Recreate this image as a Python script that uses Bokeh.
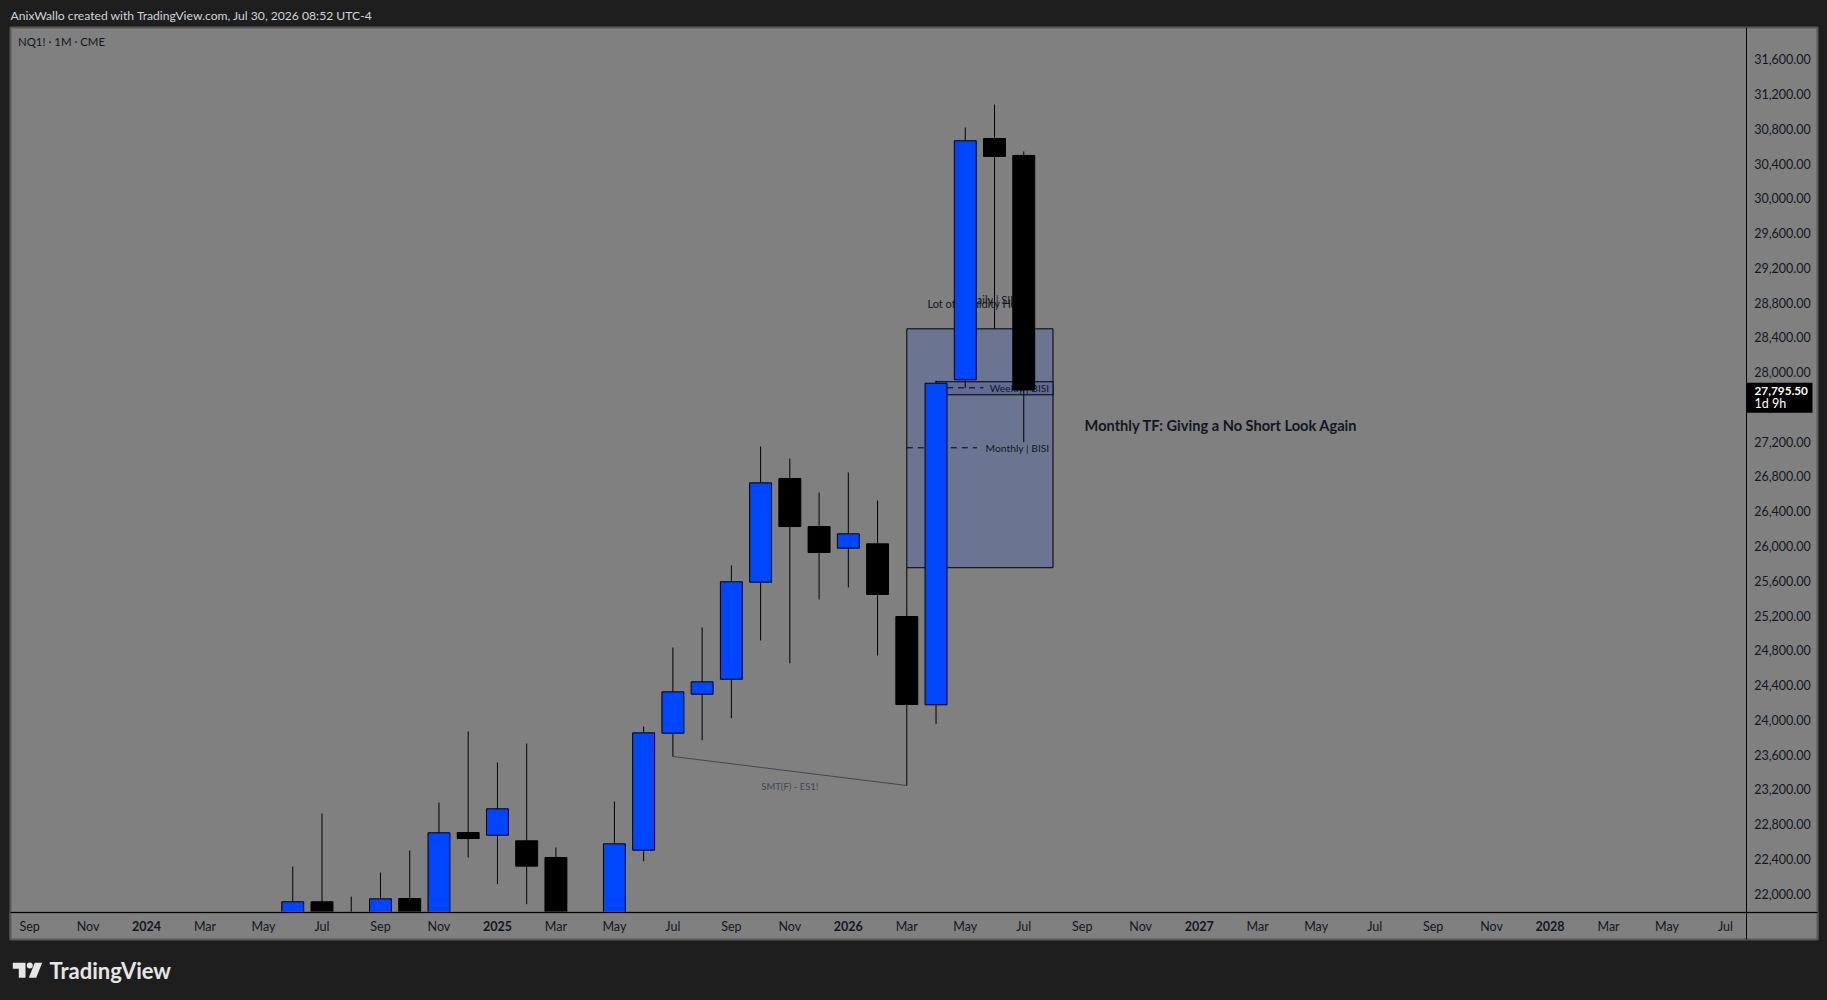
from bokeh.plotting import figure
from bokeh.embed import file_html
from bokeh.resources import INLINE
from bokeh.core.properties import value
from bokeh.models import ColumnDataSource, FixedTicker, NumeralTickFormatter, Range1d

# ---- data -----------------------------------------------------------------
axis_months = ["Sep", "Oct", "Nov", "Dec", "2024", "Feb", "Mar", "Apr", "May", "Jun", "Jul", "Aug",
               "Sep", "Oct", "Nov", "Dec", "2025", "Feb", "Mar", "Apr", "May", "Jun", "Jul", "Aug",
               "Sep", "Oct", "Nov", "Dec", "2026", "Feb", "Mar", "Apr", "May", "Jun", "Jul", "Aug",
               "Sep", "Oct", "Nov", "Dec", "2027", "Feb", "Mar", "Apr", "May", "Jun", "Jul", "Aug",
               "Sep", "Oct", "Nov", "Dec", "2028", "Feb", "Mar", "Apr", "May", "Jun", "Jul"]
candle_idx = list(range(9, 35))
opens  = [21650, 21906, 21690, 21700, 21944, 21700, 22703, 22672, 22608, 22416, 21400, 21650, 22500,
          23846, 24295, 24467, 25584, 26777, 26224, 25975, 26025, 25189, 24173, 27913, 30689, 30494]
highs  = [22312, 22922, 21967, 22243, 22496, 23048, 23866, 23509, 23727, 22531, 21600, 23060, 23923,
          24832, 25062, 25776, 27145, 27007, 26616, 26846, 26524, 25750, 27904, 30816, 31080, 30540]
lows   = [21500, 21400, 21500, 21500, 21500, 21500, 22416, 22109, 21878, 21400, 21100, 21400, 22373,
          23578, 23765, 24019, 24913, 24651, 25384, 25523, 24740, 23244, 23950, 27820, 28500, 27195]
closes = [21906, 21700, 21700, 21940, 21700, 22700, 22634, 22976, 22316, 21700, 21500, 22573, 23850,
          24322, 24437, 25588, 26727, 26224, 25925, 26140, 25442, 24176, 27873, 30663, 30482, 27795.5]
price_ticks = [22000, 22400, 22800, 23200, 23600, 24000, 24400, 24800, 25200, 25600, 26000, 26400, 26800,
               27200, 27600, 28000, 28400, 28800, 29200, 29600, 30000, 30400, 30800, 31200, 31600]
year_idx = [4, 16, 28, 40, 52]
year_labels = ["2024", "2025", "2026", "2027", "2028"]
last_price = "27,795.50"
countdown = "1d 9h"

FONT = "Lato"
BG = "#1e1e1e"
PANE = "#808080"
TEXT = "#131722"


def dx(px):  # page pixel -> month index
    return (px - 29.1) / 29.24


def dy(py):  # page pixel -> price
    return 28000 + (371.7 - py) * 11.507


PANE_L, PANE_R, PANE_T, PANE_B = 10, 1817, 27, 939
AXIS_X, AXIS_Y = dx(1745.7), dy(912.1)

p = figure(width=1827, height=1000, output_backend="svg", toolbar_location=None,
           x_range=Range1d(dx(0), dx(1827)), y_range=Range1d(dy(1000), dy(0)),
           y_axis_location="right", min_border=0,
           border_fill_color=BG, background_fill_color=BG, outline_line_color=None)
p.grid.visible = False

# pane behind plot and axes
p.quad(left=dx(PANE_L), right=dx(PANE_R), top=dy(PANE_T), bottom=dy(PANE_B), fill_color=PANE,
       line_color="#5a5a5a", line_width=2)

# drawings below the candles
p.quad(left=30, right=35, top=28499, bottom=25750, fill_color="#6b7592", line_color="#000000", line_width=1)
p.quad(left=31, right=35, top=27890, bottom=27740, fill_color="#5f6c97", line_color="#000000", line_width=1)
p.segment(x0=[30, 31], x1=[32.4, 32.62], y0=[27130, 27820], y1=[27130, 27820], line_color="#000000",
          line_width=1, line_dash="6 5")
p.segment(x0=[22], x1=[30], y0=[23578], y1=[23244], line_color="#434651", line_width=1)


def note(x, y, txt, size, color=TEXT, align="left", style="normal", **kw):
    p.text(x=[x], y=[y], text=[txt], text_font=value(FONT), text_font_size=value(size), text_color=color,
           text_align=align, text_baseline="middle", text_font_style=style, **kw)


note(32.40, 28790, "Lot of Liquidity Here", "11px", align="center")
note(33.9, 28835, "Daily | SIBI", "11px", align="right")
note(34.88, 27820, "Weekly | BISI", "10.3px", align="right")
note(34.88, 27130, "Monthly | BISI", "10.3px", align="right")
note(26, 23236, "SMT(F) - ES1!", "9.5px", color="#434651", align="center")
note(36.08, 27383, "Monthly TF: Giving a No Short Look Again", "14.6px", style="bold")

# candles
blue = "#0045ff"
colors = [blue if c >= o else "#000000" for o, c in zip(opens, closes)]
src = ColumnDataSource(dict(x=candle_idx, o=opens, h=highs, l=lows, c=closes, col=colors,
                            top=[max(a, b) for a, b in zip(opens, closes)],
                            bottom=[min(a, b) for a, b in zip(opens, closes)]))
p.segment(x0="x", x1="x", y0="l", y1="h", source=src, line_color="#000000", line_width=1)
p.vbar(x="x", width=0.75, top="top", bottom="bottom", source=src, fill_color="col", line_color="#000000", line_width=1)

# footer and time-axis strip cover what lies below the price range
p.quad(left=dx(0), right=dx(1827), top=dy(PANE_B), bottom=dy(1000), fill_color=BG, line_color=None)
p.quad(left=dx(PANE_L), right=dx(PANE_R), top=dy(912.1), bottom=dy(PANE_B), fill_color=PANE,
       line_color="#5a5a5a", line_width=2)

# axes (full-canvas frame, axes pinned to the pane's inner edges)
ticks_x = list(range(0, len(axis_months), 2))
xa = p.xaxis[0]
xa.ticker = FixedTicker(ticks=ticks_x)
xa.major_label_overrides = {i: ("" if axis_months[i] in year_labels else axis_months[i]) for i in ticks_x}
xa.fixed_location = AXIS_Y
xa.bounds = (dx(PANE_L), dx(PANE_R))
ya = p.yaxis[0]
ya.ticker = FixedTicker(ticks=price_ticks)
ya.formatter = NumeralTickFormatter(format="0,0.00")
ya.fixed_location = AXIS_X
ya.bounds = (dy(PANE_B), dy(PANE_T))
for ax in (xa, ya):
    ax.major_tick_line_color = None
    ax.minor_tick_line_color = None
    ax.major_tick_out = 0
    ax.major_tick_in = 0
    ax.axis_line_color = "#000000"
    ax.axis_line_width = 1
    ax.major_label_text_color = TEXT
    ax.major_label_text_font = FONT
    ax.major_label_text_font_size = "12.5px"
xa.major_label_standoff = 6
ya.major_label_standoff = 8

# bold year labels on the time axis
p.text(x=year_idx, y=[dy(925.7)] * len(year_idx), text=year_labels, text_font=value(FONT),
       text_font_size=value("12.5px"), text_font_style="bold", text_color=TEXT, text_align="center",
       text_baseline="middle", level="overlay")

# last price tag
p.quad(left=dx(1746), right=dx(1812), top=dy(382.3), bottom=dy(412.3), fill_color="#000000", line_color=None,
       level="overlay")
note(dx(1754), dy(390), last_price, "11.8px", color="#ffffff", style="bold", level="overlay")
note(dx(1754), dy(403), countdown, "12.5px", color="#ffffff", level="overlay")

# header and footer
note(dx(10), dy(15), "AnixWallo created with TradingView.com, Jul 30, 2026 08:52 UTC-4", "12.15px", color="#d1d4dc")
note(dx(17.5), dy(41), "NQ1! \u00b7 1M \u00b7 CME", "11.4px")
note(dx(49), dy(970), "TradingView", "22px", color="#e6e6e6", style="bold")

# logo
p.patches(xs=[[dx(v) for v in (12.3, 25, 25, 18.3, 18.3, 12.3)], [dx(v) for v in (34.3, 41.7, 35.7, 28.3)]],
          ys=[[dy(v) for v in (962.3, 962.3, 977.3, 977.3, 968.3, 968.3)], [dy(v) for v in (962.3, 962.3, 977.3, 977.3)]],
          fill_color="#e6e6e6", line_color=None)
p.scatter(x=[dx(29.3)], y=[dy(965)], size=6, fill_color="#e6e6e6", line_color=None)

html = file_html(p, INLINE)
html = html.replace("<head>", "<head><style>html,body{background:%s;margin:0;overflow:hidden}</style>" % BG, 1)
open("out.html", "w").write(html)
